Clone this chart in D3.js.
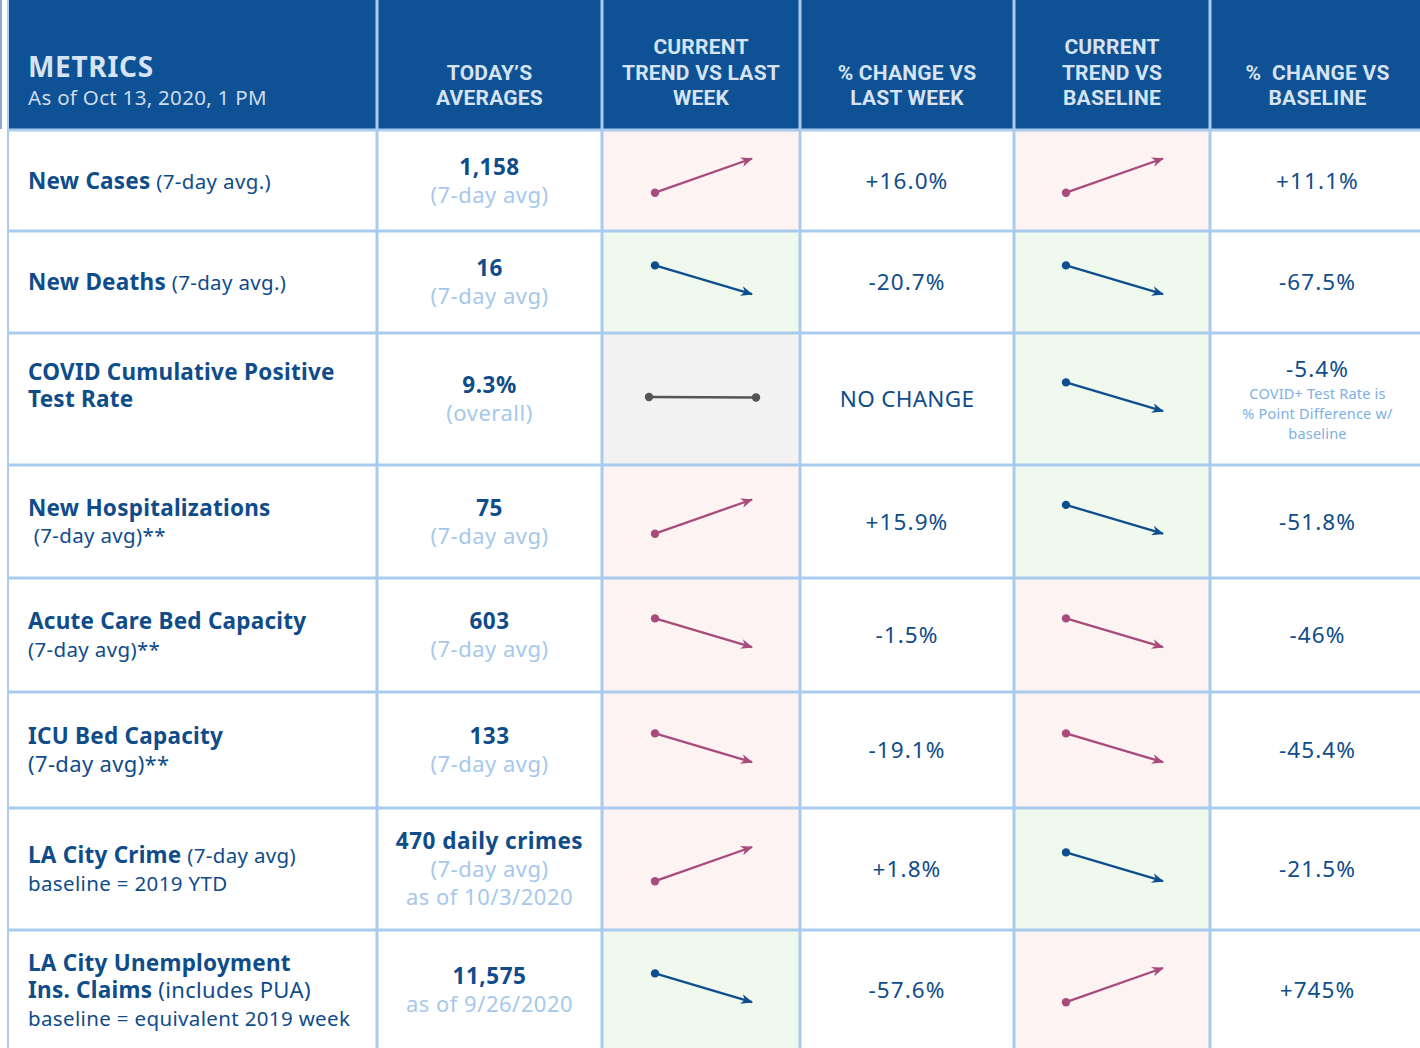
<!DOCTYPE html>
<meta charset="UTF-8">
<html>
<head>
<style>
html, body {
  margin:0;
  padding:0;
  background:#fff;
}
svg {
  display:block;
  font-family: "Noto Sans", Roboto, sans-serif;
}
.hdr {
  fill:#d6e3f2;
  font-weight:700;
  font-family: Roboto, "Noto Sans", sans-serif;
  white-space:pre;
}
.grid {
  stroke:#a9cbee;
  stroke-width:3;
}
</style>
</head>
<body>

<svg width="1420" height="1048"></svg>
<script src="https://d3js.org/d3.v7.min.js"></script>

<script type="text/javascript">
// ---- data ----
var title = "METRICS";
var subtitle = "As of Oct 13, 2020, 1 PM";

var headerLines = [
  ["TODAY\u2019S", "AVERAGES"],
  ["CURRENT", "TREND VS LAST", "WEEK"],
  ["% CHANGE VS", "LAST WEEK"],
  ["CURRENT", "TREND VS", "BASELINE"],
  ["%  CHANGE VS", "BASELINE"]
];

// each metric: lines of [text, role]
var metricLabels = [
  [[["New Cases", "title"], [" (7-day avg.)", "note"]]],
  [[["New Deaths", "title"], [" (7-day avg.)", "note"]]],
  [[["COVID Cumulative Positive", "title"]], [["Test Rate", "title"]], []],
  [[["New Hospitalizations", "title"]], [[" (7-day avg)**", "note"]]],
  [[["Acute Care Bed Capacity", "title"]], [["(7-day avg)**", "note"]]],
  [[["ICU Bed Capacity", "title"]], [["(7-day avg)**", "big"]]],
  [[["LA City Crime", "title"], [" (7-day avg)", "note"]], [["baseline = 2019 YTD", "note"]]],
  [[["LA City Unemployment", "title"]], [["Ins. Claims", "title"], [" (includes PUA)", "big"]], [["baseline = equivalent 2019 week", "note"]]]
];

var todayValues = ["1,158", "16", "9.3%", "75", "603", "133", "470 daily crimes", "11,575"];
var todayNotes = [
  ["(7-day avg)"], ["(7-day avg)"], ["(overall)"], ["(7-day avg)"],
  ["(7-day avg)"], ["(7-day avg)"], ["(7-day avg)", "as of 10/3/2020"], ["as of 9/26/2020"]
];

var trendLastWeek  = ["up", "down", "flat", "up", "down", "down", "up", "down"];
var statusLastWeek = ["bad", "good", "neutral", "bad", "bad", "bad", "bad", "good"];
var pctLastWeek    = ["+16.0%", "-20.7%", "NO CHANGE", "+15.9%", "-1.5%", "-19.1%", "+1.8%", "-57.6%"];

var trendBaseline  = ["up", "down", "down", "down", "down", "down", "down", "up"];
var statusBaseline = ["bad", "good", "good", "good", "bad", "bad", "good", "bad"];
var pctBaseline    = ["+11.1%", "-67.5%", "-5.4%", "-51.8%", "-46%", "-45.4%", "-21.5%", "+745%"];
var baselineNotes  = [[], [], ["COVID+ Test Rate is", "% Point Difference w/", "baseline"], [], [], [], [], []];

// ---- layout ----
var svg = d3.select("svg"),
    width = +svg.attr("width"),
    height = +svg.attr("height");

var colEdges = [8, 377, 602, 800, 1014, 1210, 1425];
var rowEdges = [130, 231, 333, 465, 578, 692, 808, 930, 1050];
var headerBottom = 129;

var statusFill = {bad: "#fdf3f3", good: "#f0f9ed", neutral: "#f2f2f2"};
var statusInk  = {bad: "#a84b7c", good: "#0f4e8e", neutral: "#555555"};

var dark = "#0f4c8a", light = "#a6c8ec";

var rowIdx = d3.range(todayValues.length);
function rowMid(i) { return (rowEdges[i] + rowEdges[i + 1]) / 2; }
function colMid(j) { return (colEdges[j] + colEdges[j + 1]) / 2; }

// header band
svg.append("rect")
    .attr("x", 9).attr("y", 0)
    .attr("width", width - 9).attr("height", headerBottom)
    .attr("fill", "#0e5194");
svg.append("line")
    .attr("x1", 1).attr("x2", 1).attr("y1", 0).attr("y2", headerBottom)
    .attr("stroke", "#6d8db5").attr("stroke-width", 1.5);

// cell backgrounds for trend cells
function trendBg(col, status) {
  svg.append("g").selectAll("rect")
    .data(rowIdx)
    .enter().append("rect")
      .attr("x", colEdges[col])
      .attr("y", function(i) { return rowEdges[i]; })
      .attr("width", colEdges[col + 1] - colEdges[col])
      .attr("height", function(i) { return rowEdges[i + 1] - rowEdges[i]; })
      .attr("fill", function(i) { return statusFill[status[i]]; });
}
trendBg(2, statusLastWeek);
trendBg(4, statusBaseline);

// grid
var grid = svg.append("g");
grid.selectAll("line.v")
  .data(colEdges.slice(0, 6))
  .enter().append("line")
    .attr("class", "grid")
    .attr("x1", function(d) { return d; }).attr("x2", function(d) { return d; })
    .attr("y1", 0)
    .attr("y2", height)
    .style("stroke-width", function(d, i) { return i == 0 ? 2 : null; });
grid.selectAll("line.h")
  .data(rowEdges.slice(0, 8))
  .enter().append("line")
    .attr("class", "grid")
    .attr("x1", 8).attr("x2", width)
    .attr("y1", function(d) { return d; }).attr("y2", function(d) { return d; });

// header text
svg.append("text")
    .attr("x", 28).attr("y", 77)
    .attr("fill", "#d6e3f2")
    .style("font-size", "28px")
    .style("font-weight", 700)
    .style("letter-spacing", "0.7px")
    .text(title);
svg.append("text")
    .attr("x", 28).attr("y", 105)
    .style("font-size", "20.5px")
    .style("letter-spacing", "0.3px")
    .attr("fill", "#cfdcec")
    .text(subtitle);

// multi-line header cells: one text element, a tspan per line
headerLines.forEach(function(lines, k) {
  var t = svg.append("text")
      .attr("class", "hdr")
      .attr("text-anchor", "middle")
      .attr("y", 105 - (lines.length - 1) * 25.5)
      .style("font-size", "21px")
      .style("letter-spacing", "0.2px");
  t.selectAll("tspan")
    .data(lines)
    .enter().append("tspan")
      .attr("x", colMid(k + 1))
      .attr("dy", function(d, i) { return i ? 25.5 : 0; })
      .text(function(d) { return d; });
});

// metric labels
var roleSize = {title: "22.5px", note: "20.5px", big: "22px"};
rowIdx.forEach(function(i) {
  var lines = metricLabels[i];
  var step = 27.5;
  var top = rowMid(i) - (lines.length - 1) * step / 2;
  var t = svg.append("text")
      .attr("x", 28)
      .attr("y", top + 8)
      .attr("fill", dark)
      .attr("xml:space", "preserve")
      .style("white-space", "pre");
  var pending = 0;
  lines.forEach(function(segs, l) {
    if (!segs.length) { pending += step; return; }
    segs.forEach(function(s, k) {
      var sp = t.append("tspan")
        .style("font-size", roleSize[s[1]])
        .style("font-weight", s[1] == "title" ? 700 : 400)
        .style("letter-spacing", s[1] == "title" ? "0.25px" : "0.35px")
        .text(s[0]);
      if (k == 0 && l > 0) sp.attr("x", 28).attr("dy", step + pending);
    });
    pending = 0;
  });
});

// today's averages
rowIdx.forEach(function(i) {
  var lines = [todayValues[i]].concat(todayNotes[i]);
  var step = 28;
  var top = rowMid(i) - (lines.length - 1) * step / 2;
  var t = svg.append("text")
      .attr("text-anchor", "middle")
      .attr("y", top + 8)
      .style("letter-spacing", "0.5px");
  t.selectAll("tspan")
    .data(lines)
    .enter().append("tspan")
      .attr("x", colMid(1))
      .attr("dy", function(d, l) { return l ? step : 0; })
      .attr("fill", function(d, l) { return l == 0 ? dark : light; })
      .style("font-size", function(d, l) { return l == 0 ? "22.5px" : "22px"; })
      .style("font-weight", function(d, l) { return l == 0 ? 700 : 400; })
      .text(function(d) { return d; });
});

// percent columns
function pctCol(col, values, notes) {
  rowIdx.forEach(function(i) {
    var n = notes ? notes[i] : [];
    var cy = rowMid(i);
    var vy = n.length ? cy - 22 : cy + 8;
    var numeric = /\d/.test(values[i]);
    svg.append("text")
      .attr("text-anchor", "middle")
      .attr("x", colMid(col))
      .attr("y", vy)
      .attr("fill", dark)
      .style("font-size", "22.5px")
      .style("letter-spacing", numeric ? "1.1px" : "0.3px")
      .text(values[i]);
    if (!n.length) return;
    var t = svg.append("text")
        .attr("text-anchor", "middle")
        .attr("y", cy)
        .attr("fill", "#7eb0e2")
        .style("font-size", "14.5px")
        .style("letter-spacing", "0.2px");
    t.selectAll("tspan")
      .data(n)
      .enter().append("tspan")
        .attr("x", colMid(col))
        .attr("dy", function(d, l) { return l ? 20 : 0; })
        .text(function(d) { return d; });
  });
}
pctCol(3, pctLastWeek, null);
pctCol(5, pctBaseline, baselineNotes);

// arrow markers
var defs = svg.append("defs");
Object.keys(statusInk).forEach(function(k) {
  defs.append("marker")
      .attr("id", "arrow-" + k)
      .attr("viewBox", "0 0 12 10")
      .attr("refX", 11)
      .attr("refY", 5)
      .attr("markerWidth", 12)
      .attr("markerHeight", 10)
      .attr("markerUnits", "userSpaceOnUse")
      .attr("orient", "auto")
    .append("path")
      .attr("d", "M0,0L12,5L0,10L3.5,5Z")
      .attr("fill", statusInk[k]);
});

// trend arrows
var trendPos = {up: [0.05, 1], down: [0.85, 0.05], flat: [0.5, 0.5]};
function trendCol(col, trends, status) {
  rowIdx.forEach(function(i) {
    var cx = colMid(col), cy = rowMid(i);
    var tr = trends[i], ink = statusInk[status[i]];
    var g = svg.append("g");
    if (tr == "flat") {
      var fx = d3.scaleLinear().domain([0, 1]).range([cx - 52, cx + 55]);
      g.append("line")
        .attr("x1", fx(0)).attr("x2", fx(1))
        .attr("y1", cy - 2).attr("y2", cy - 1.5)
        .attr("stroke", ink).attr("stroke-width", 2.5);
      g.selectAll("circle").data([0, 1]).enter().append("circle")
        .attr("cx", function(d) { return fx(d); })
        .attr("cy", function(d) { return d ? cy - 1.5 : cy - 2; })
        .attr("r", 4.2)
        .attr("fill", ink);
      return;
    }
    var x = d3.scaleLinear().domain([0, 1]).range([cx - 46, cx + 51]);
    var y = d3.scaleLinear().domain([0, 1]).range([cy + 14, cy - 22]);
    var p = trendPos[tr];
    g.append("line")
      .attr("x1", x(0)).attr("y1", y(p[0]))
      .attr("x2", x(1)).attr("y2", y(p[1]))
      .attr("stroke", ink).attr("stroke-width", 2.3)
      .attr("marker-end", "url(#arrow-" + status[i] + ")");
    g.append("circle")
      .attr("cx", x(0)).attr("cy", y(p[0]))
      .attr("r", 4.2)
      .attr("fill", ink);
  });
}
trendCol(2, trendLastWeek, statusLastWeek);
trendCol(4, trendBaseline, statusBaseline);
</script>

</body>
</html>
